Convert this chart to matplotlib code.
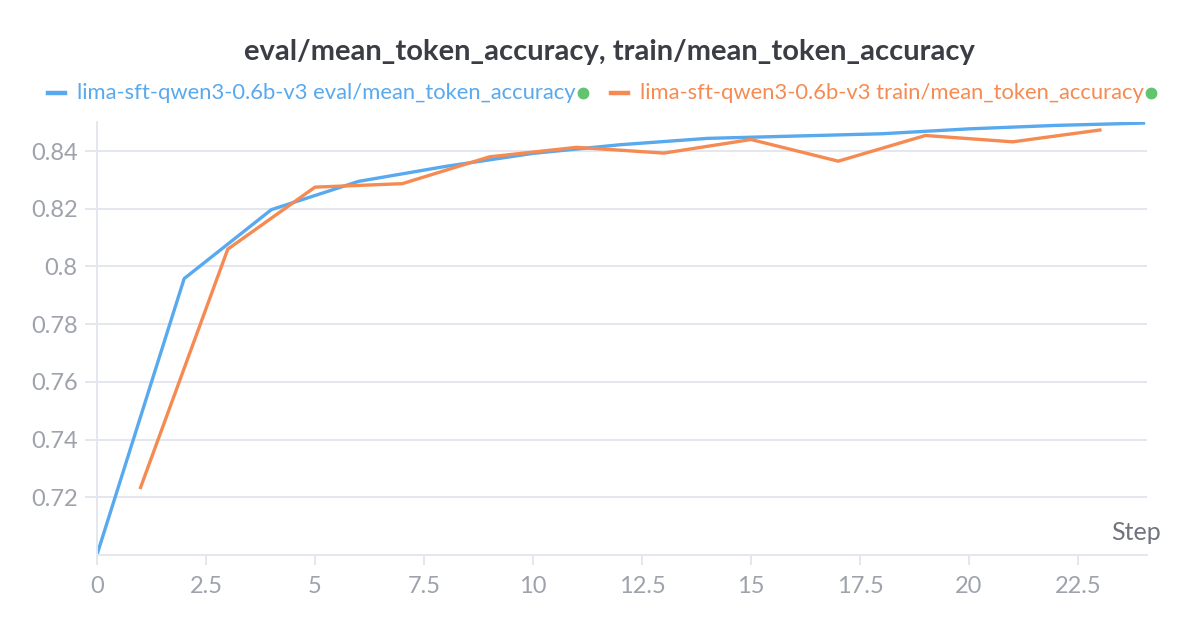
import matplotlib
matplotlib.use('Agg')
import matplotlib.pyplot as plt
from matplotlib.lines import Line2D
from matplotlib.ticker import FuncFormatter

eval_steps = [0, 2, 4, 6, 8, 10, 12, 14, 16, 18, 20, 22, 24]
eval_acc = [0.7001, 0.7958, 0.8197, 0.8295, 0.8347, 0.8392, 0.8422, 0.8444,
            0.8452, 0.8460, 0.8477, 0.8489, 0.8497]

train_steps = [1, 3, 5, 7, 9, 11, 13, 15, 17, 19, 21, 23]
train_acc = [0.7234, 0.8060, 0.8275, 0.8287, 0.8380, 0.8413, 0.8393, 0.8440,
             0.8365, 0.8454, 0.8432, 0.8473]

title = 'eval/mean_token_accuracy, train/mean_token_accuracy'
eval_label = 'lima-sft-qwen3-0.6b-v3 eval/mean_token_accuracy'
train_label = 'lima-sft-qwen3-0.6b-v3 train/mean_token_accuracy'

y_ticks = [0.72, 0.74, 0.76, 0.78, 0.80, 0.82, 0.84]
x_ticks = [0, 2.5, 5, 7.5, 10, 12.5, 15, 17.5, 20, 22.5]

blue = '#58a9ee'
orange = '#f58b52'
green = '#62c46e'
grid_c = '#e4e7ee'
tick_c = '#9ea2ab'

plt.rcParams['font.family'] = ['Lato', 'DejaVu Sans']

fig = plt.figure(figsize=(12, 6.3), dpi=100)
ax = fig.add_axes([0.0808, 0.119, 0.8750, 0.687])

ax.plot(eval_steps, eval_acc, color=blue, lw=2.4, solid_joinstyle='round')
ax.plot(train_steps, train_acc, color=orange, lw=2.4, solid_joinstyle='round')

ax.set_xlim(0, 24.08)
ax.set_ylim(0.70, 0.85)
ax.set_xticks(x_ticks)
ax.set_yticks(y_ticks)
fmt = FuncFormatter(lambda v, p: ('%g' % round(v, 3)))
ax.xaxis.set_major_formatter(fmt)
ax.yaxis.set_major_formatter(fmt)

ax.grid(axis='y', color=grid_c, lw=1.4)
ax.set_axisbelow(True)
for s in ['top', 'right']:
    ax.spines[s].set_visible(False)
for s in ['left', 'bottom']:
    ax.spines[s].set_color(grid_c)
    ax.spines[s].set_linewidth(1.4)
ax.tick_params(axis='both', colors=grid_c, labelcolor=tick_c, labelsize=17, width=1.4)
ax.tick_params(axis='x', length=7, pad=8)
ax.tick_params(axis='y', length=9, pad=5)

ax.text(0.990, 0.053, 'Step', transform=ax.transAxes, ha='center', va='center',
        fontsize=18, color='#70747d')

fig.text(0.508, 0.917, title, ha='center', va='center', fontsize=21,
         fontweight='bold', color='#3a3d44')

# legend row built by hand so the green status dot can follow each label
fig.canvas.draw()
renderer = fig.canvas.get_renderer()
legend_y = 0.853
x = 0.040
for lbl, col in [(eval_label, blue), (train_label, orange)]:
    fig.add_artist(Line2D([x, x + 0.014], [legend_y, legend_y], color=col, lw=3.2,
                          transform=fig.transFigure))
    t = fig.text(x + 0.024, legend_y, lbl, ha='left', va='center', fontsize=15.8,
                 color=col)
    bb = t.get_window_extent(renderer).transformed(fig.transFigure.inverted())
    fig.add_artist(Line2D([bb.x1 + 0.006], [legend_y], marker='o', ms=7.5,
                          color=green, transform=fig.transFigure))
    x = bb.x1 + 0.030

fig.savefig('out.png', dpi=100, facecolor='white')
plt.close()
